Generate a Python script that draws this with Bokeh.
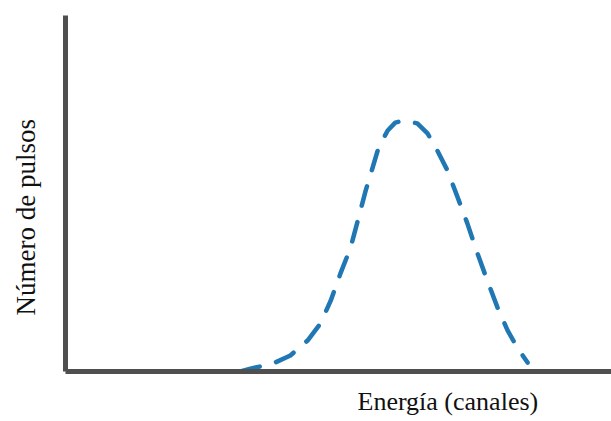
from bokeh.plotting import figure
from bokeh.models import Range1d, Title
from bokeh.embed import file_html
from bokeh.resources import INLINE

# Curve (energy channel vs. pulse count, arbitrary units)
energia = [32.5, 34.4, 38.5, 41.8, 45.0, 47.4, 49.3, 51.1, 53.0, 54.5, 55.8, 57.1,
           58.2, 59.9, 61.3, 62.8, 65.4, 67.3, 69.1, 71.0, 72.9, 74.7, 76.6, 78.4,
           80.3, 82.2, 84.0, 85.9]
pulsos = [0.0, 0.8, 2.2, 4.5, 8.7, 13.5, 19.9, 27.5, 34.8, 43.3, 50.8, 57.3,
          62.9, 67.7, 69.9, 70.5, 69.7, 66.9, 62.1, 56.5, 48.9, 41.6, 33.1, 25.6,
          18.0, 11.5, 6.7, 2.5]

x_title = "Energía (canales)"
y_title = "Número de pulsos"

p = figure(width=611, height=421, output_backend="svg", toolbar_location=None,
           x_range=Range1d(0, 101.5), y_range=Range1d(0, 100),
           min_border_left=65, min_border_right=0, min_border_top=15,
           min_border_bottom=50)
p.outline_line_color = None
p.grid.visible = False
p.background_fill_color = "white"
p.border_fill_color = "white"

for ax in (p.xaxis, p.yaxis):
    ax.ticker = []
    ax.axis_line_width = 5
    ax.axis_line_color = "#4f4f4f"
    ax.major_tick_line_color = None
    ax.minor_tick_line_color = None
    ax.major_tick_out = 0
    ax.major_tick_in = 0
    ax.major_label_standoff = 0

p.line(energia, pulsos, line_color="#1f77b4", line_width=4.5, line_dash="20 17",
       line_cap="round", line_join="round")

# white (invisible on white) spacers between the axes and their titles
p.add_layout(Title(text=".", standoff=3, text_font_size="10px",
                   text_color="white"), "below")
p.add_layout(Title(text=".", standoff=15, text_font_size="10px",
                   text_color="white"), "left")

p.add_layout(Title(text=x_title, align="left", offset=292, standoff=0,
                   vertical_align="bottom",
                   text_font="Liberation Serif", text_font_size="26px",
                   text_font_style="normal", text_color="#111111"), "below")
p.add_layout(Title(text=y_title, align="left", offset=56, standoff=0,
                   vertical_align="bottom",
                   text_font="Liberation Serif", text_font_size="27px",
                   text_font_style="normal", text_color="#111111"), "left")

open("out.html", "w").write(file_html(p, INLINE))
